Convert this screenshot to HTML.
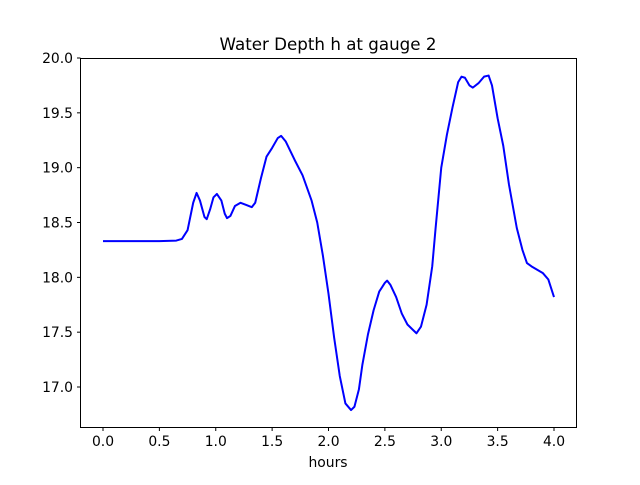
<!DOCTYPE html>
<html><head><meta charset="utf-8"><style>
html,body{margin:0;padding:0;background:#fff;}
svg text{font-family:"DejaVu Sans","Liberation Sans",sans-serif;fill:#000;}
</style></head><body>
<svg id="chart" width="640" height="480" xmlns="http://www.w3.org/2000/svg">
<rect width="640" height="480" fill="#fff"/>
<text x="328" y="50" text-anchor="middle" font-size="16.7">Water Depth h at gauge 2</text>
<g id="plot"></g>
<rect x="80.5" y="58.5" width="496" height="369" fill="none" stroke="#000" stroke-width="1"/>
<text x="328" y="467" text-anchor="middle" font-size="13.9">hours</text>
</svg>
<script>
const times=[0.0,0.5,0.65,0.7,0.75,0.8,0.83,0.86,0.9,0.92,0.95,0.98,1.01,1.05,1.08,1.1,1.13,1.17,1.22,1.27,1.32,1.35,1.4,1.45,1.5,1.55,1.58,1.62,1.7,1.77,1.85,1.9,1.95,2.0,2.05,2.1,2.15,2.2,2.23,2.27,2.3,2.35,2.4,2.45,2.5,2.52,2.55,2.6,2.65,2.7,2.75,2.78,2.82,2.87,2.92,2.95,3.0,3.05,3.1,3.15,3.18,3.21,3.25,3.28,3.33,3.38,3.42,3.45,3.5,3.55,3.6,3.67,3.72,3.76,3.8,3.9,3.95,4.0];
const depths=[18.33,18.33,18.335,18.35,18.43,18.68,18.77,18.70,18.55,18.53,18.62,18.73,18.76,18.70,18.58,18.54,18.56,18.65,18.68,18.66,18.64,18.68,18.90,19.10,19.18,19.27,19.29,19.24,19.07,18.93,18.70,18.50,18.20,17.85,17.45,17.10,16.85,16.79,16.82,16.98,17.20,17.48,17.70,17.87,17.95,17.97,17.93,17.82,17.67,17.57,17.52,17.49,17.55,17.75,18.10,18.45,19.00,19.30,19.55,19.78,19.83,19.82,19.75,19.73,19.77,19.83,19.84,19.75,19.45,19.20,18.85,18.45,18.25,18.13,18.10,18.04,17.98,17.82];
const xTicks=[0.0,0.5,1.0,1.5,2.0,2.5,3.0,3.5,4.0];
const yTicks=[17.0,17.5,18.0,18.5,19.0,19.5,20.0];
const xs=t=>103+t*112.75;
const ys=v=>58+(20-v)*109.67;
const NS="http://www.w3.org/2000/svg";
const g=document.getElementById('plot');
function mk(tag,attrs){const e=document.createElementNS(NS,tag);for(const k in attrs)e.setAttribute(k,attrs[k]);g.appendChild(e);return e;}
xTicks.forEach(t=>{
  const x=xs(t);
  const l=mk('line',{x1:x,x2:x,y1:427.5,y2:431,stroke:'#000'});
  
  
  const tx=mk('text',{x:x,y:446,'text-anchor':'middle','font-size':'13.9'});
  tx.textContent=t.toFixed(1);
  
  
});
yTicks.forEach(v=>{
  const y=ys(v);
  const l=mk('line',{x1:77,x2:80.5,y1:y,y2:y,stroke:'#000'});
  
  
  const tx=mk('text',{x:73,y:y+5,'text-anchor':'end','font-size':'13.9'});
  tx.textContent=v.toFixed(1);
  
  
});
const pts=times.map((t,i)=>xs(t).toFixed(2)+','+ys(depths[i]).toFixed(2)).join(' ');
const line=mk('polyline',{points:pts,fill:'none',stroke:'#0000ff','stroke-width':'2','stroke-linejoin':'round'});


</script>
</body></html>
